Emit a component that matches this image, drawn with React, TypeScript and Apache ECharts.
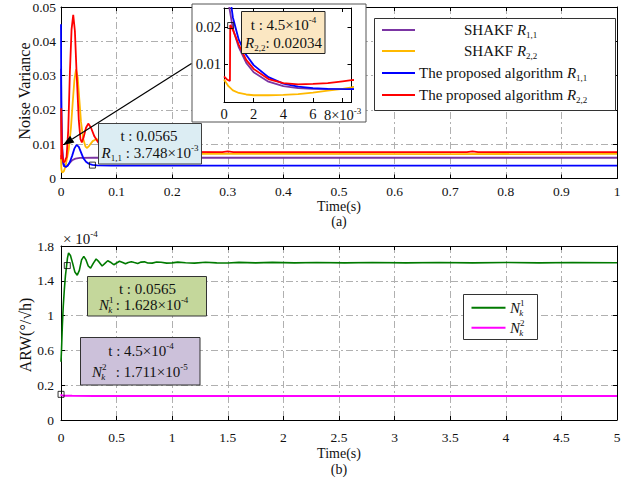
import React, { useEffect, useRef } from "react";
import * as echarts from "echarts";

const FONT = "Liberation Serif";
const INK = "#111111";
const GRID_C = "#b0b0b0";
const DASHDOT = [7, 3, 2, 3];

// ---------- tick labels ----------
const topXTickLabels = ["0", "0.1", "0.2", "0.3", "0.4", "0.5", "0.6", "0.7", "0.8", "0.9", "1"];
const topYTickLabels = ["0", "0.01", "0.02", "0.03", "0.04", "0.05"];
const insetXTickLabels = ["0", "2", "4", "6", "{n|8×10}{p|-3}", ""];
const insetYTickLabels = ["", "0.01", "0.02", ""];
const botXTickLabels = ["0", "0.5", "1", "1.5", "2", "2.5", "3", "3.5", "4", "4.5", "5"];
const botYTickLabels = ["0", "0.2", "0.6", "1", "1.4", "1.8"];

// ---------- (a) noise variance series: [time s, value] ----------
const shakfR11: number[][] = [
  [0, 0.032], [0.0003, 0.0265], [0.0006, 0.0195], [0.001, 0.0145], [0.0015, 0.0104], [0.002, 0.0079],
  [0.003, 0.0054], [0.004, 0.0042], [0.005, 0.0037], [0.006, 0.0035], [0.0086, 0.0034], [0.012, 0.0038],
  [0.016, 0.0046], [0.02, 0.0053], [0.026, 0.0058], [0.034, 0.006], [0.06, 0.00605], [0.5, 0.00605], [1, 0.00605],
];
const shakfR22: number[][] = [
  [0, 0.006], [0.0003, 0.0042], [0.0006, 0.0031], [0.001, 0.0024], [0.0015, 0.002], [0.002, 0.0018],
  [0.003, 0.0018], [0.004, 0.0019], [0.005, 0.0021], [0.006, 0.0025], [0.007, 0.003], [0.008, 0.0035],
  [0.0086, 0.0039], [0.01, 0.0052], [0.014, 0.0085], [0.018, 0.015], [0.021, 0.022], [0.024, 0.0285],
  [0.027, 0.0318], [0.03, 0.0295], [0.033, 0.023], [0.036, 0.0165], [0.04, 0.0115], [0.044, 0.0093],
  [0.047, 0.0089], [0.051, 0.0096], [0.057, 0.0109], [0.064, 0.0115], [0.072, 0.0105], [0.085, 0.0083],
  [0.1, 0.0074], [0.13, 0.0072], [0.4, 0.0072], [0.7, 0.0071], [1, 0.0072],
];
const propR11: number[][] = [
  [0, 0.045], [0.0003, 0.031], [0.0006, 0.0225], [0.001, 0.0165], [0.0015, 0.0125], [0.002, 0.0098],
  [0.003, 0.0066], [0.004, 0.0049], [0.005, 0.0041], [0.006, 0.0037], [0.007, 0.0035], [0.0086, 0.0034],
  [0.012, 0.0037], [0.016, 0.0048], [0.02, 0.0066], [0.024, 0.0087], [0.028, 0.0098], [0.032, 0.0092],
  [0.036, 0.0076], [0.04, 0.006], [0.045, 0.0049], [0.05, 0.0043], [0.0565, 0.00395], [0.065, 0.0038],
  [0.09, 0.00375], [0.5, 0.00375], [1, 0.00375],
];
const propR22: number[][] = [
  [0, 0.0068], [0.0002, 0.006], [0.0004, 0.0056], [0.00042, 0.0205], [0.00045, 0.02034], [0.0006, 0.0192],
  [0.001, 0.0152], [0.0015, 0.0112], [0.002, 0.0088], [0.003, 0.0061], [0.004, 0.005], [0.005, 0.0047],
  [0.006, 0.0048], [0.007, 0.005], [0.008, 0.0055], [0.0086, 0.0058], [0.01, 0.0062], [0.013, 0.014],
  [0.016, 0.031], [0.019, 0.0435], [0.022, 0.0477], [0.025, 0.043], [0.028, 0.031], [0.032, 0.017],
  [0.035, 0.0115], [0.0375, 0.0105], [0.041, 0.0122], [0.045, 0.0148], [0.049, 0.016], [0.054, 0.0148],
  [0.06, 0.0123], [0.067, 0.0105], [0.08, 0.0086], [0.1, 0.0078], [0.29, 0.0077], [0.3, 0.0079],
  [0.31, 0.0077], [0.73, 0.0077], [0.74, 0.0079], [0.75, 0.0077], [1, 0.0077],
];
const markA: number[][] = [[0.0565, 0.0039]];
const markInset: number[][] = [[0.00045, 0.02034]];

// ---------- (b) ARW series (×10^-4 display units) ----------
const arwN1: number[][] = [
  [0, 0.47], [0.005, 0.62], [0.012, 0.88], [0.02, 1.1], [0.03, 1.3], [0.04, 1.46], [0.05, 1.57], [0.058, 1.66],
  [0.068, 1.72], [0.085, 1.69], [0.105, 1.6], [0.125, 1.5], [0.146, 1.465], [0.165, 1.52], [0.185, 1.64],
  [0.205, 1.68], [0.225, 1.64], [0.245, 1.57], [0.266, 1.545], [0.29, 1.6], [0.316, 1.65], [0.34, 1.62],
  [0.37, 1.57], [0.395, 1.6], [0.42, 1.63], [0.45, 1.61], [0.475, 1.585], [0.5, 1.605], [0.526, 1.625],
  [0.555, 1.61], [0.58, 1.595], [0.605, 1.61], [0.632, 1.62], [0.66, 1.61], [0.69, 1.6], [0.72, 1.615],
  [0.75, 1.618], [0.78, 1.605], [0.82, 1.603], [0.86, 1.615], [0.9, 1.614], [0.95, 1.603], [1.0, 1.606],
  [1.05, 1.615], [1.12, 1.608], [1.2, 1.603], [1.3, 1.613], [1.4, 1.606], [1.5, 1.604], [1.6, 1.612],
  [1.75, 1.606], [1.9, 1.612], [2.1, 1.606], [2.3, 1.611], [2.55, 1.606], [2.8, 1.61], [3.1, 1.606],
  [3.4, 1.61], [3.7, 1.606], [4, 1.61], [4.3, 1.606], [4.6, 1.61], [5, 1.608],
];
const arwN2: number[][] = [
  [0, 0.095], [0.003, 0.085], [0.02, 0.08], [0.1, 0.078], [0.3, 0.076], [0.5, 0.077], [1, 0.075],
  [2, 0.075], [3, 0.075], [4, 0.075], [5, 0.075],
];
const markN1: number[][] = [[0.0565, 1.575]];
const markN2: number[][] = [[0.00045, 0.095]];

const C_PURPLE = "#7b35a3";
const C_ORANGE = "#ffb900";
const C_BLUE = "#0000ff";
const C_RED = "#ff0000";
const C_GREEN = "#007a00";
const C_PINK = "#ff00ff";

function rich(size: number) {
  const small = Math.round(size * 0.62);
  return {
    n: { fontSize: size, fontFamily: FONT, fill: INK, color: INK, lineHeight: size + 4 },
    i: { fontSize: size, fontFamily: FONT, fontStyle: "italic", fill: INK, color: INK, lineHeight: size + 4 },
    s: { fontSize: small, fontFamily: FONT, fill: INK, color: INK, verticalAlign: "bottom", lineHeight: small },
    p: { fontSize: small, fontFamily: FONT, fill: INK, color: INK, verticalAlign: "top", lineHeight: small },
  };
}

function T(x: number, y: number, text: string, o: any = {}) {
  const size = o.size ?? 15;
  return {
    type: "text",
    x,
    y,
    z: o.z ?? 30,
    rotation: o.rotation ?? 0,
    silent: true,
    style: {
      text,
      fill: INK,
      fontFamily: FONT,
      fontSize: size,
      fontStyle: o.italic ? "italic" : "normal",
      align: o.align ?? "left",
      textAlign: o.align ?? "left",
      verticalAlign: "middle",
      textVerticalAlign: "middle",
      rich: o.rich ? rich(size) : undefined,
    },
  };
}

function R(x: number, y: number, w: number, h: number, fill: string, stroke: string, z: number) {
  return {
    type: "rect",
    z,
    silent: true,
    shape: { x, y, width: w, height: h },
    style: { fill, stroke, lineWidth: 1 },
  };
}

function L(x1: number, y1: number, x2: number, y2: number, color: string, z: number, w = 2) {
  return { type: "line", z, silent: true, shape: { x1, y1, x2, y2 }, style: { stroke: color, lineWidth: w } };
}

// N_k^m symbol
function Nk(x: number, y: number, sup: string, z: number, size = 15) {
  return [
    T(x, y, "N", { italic: true, size, z }),
    T(x + size * 0.66, y - size * 0.36, sup, { size: size * 0.6, z }),
    T(x + size * 0.62, y + size * 0.34, "k", { italic: true, size: size * 0.6, z }),
  ];
}

const axisLine = { show: true, onZero: false, lineStyle: { color: "#000", width: 1 } };
const tick = { show: true, inside: true, length: 4, lineStyle: { color: "#000", width: 1 } };

function xAx(gridIndex: number, min: number, max: number, interval: number, labels: string[] | null, opt: any = {}) {
  return {
    type: "value",
    gridIndex,
    position: opt.position ?? "bottom",
    min,
    max,
    interval,
    z: opt.z ?? 0,
    axisLine,
    axisTick: tick,
    axisLabel: labels
      ? {
          show: true,
          margin: opt.margin ?? 6,
          color: INK,
          fontFamily: FONT,
          fontSize: opt.fontSize ?? 13.5,
          formatter: (_v: number, i: number) => labels[i] ?? "",
          rich: rich(opt.fontSize ?? 13.5),
        }
      : { show: false },
    splitLine: opt.split ? { show: true, lineStyle: { color: GRID_C, type: DASHDOT, width: 1 } } : { show: false },
  };
}
function yAx(gridIndex: number, min: number, max: number, interval: number, labels: string[] | null, opt: any = {}) {
  return {
    type: "value",
    gridIndex,
    position: opt.position ?? "left",
    min,
    max,
    interval,
    z: opt.z ?? 0,
    axisLine,
    axisTick: tick,
    axisLabel: labels
      ? {
          show: true,
          margin: opt.margin ?? 5,
          color: INK,
          fontFamily: FONT,
          fontSize: opt.fontSize ?? 13.5,
          formatter: (_v: number, i: number) => labels[i] ?? "",
        }
      : { show: false },
    splitLine: opt.split ? { show: true, lineStyle: { color: GRID_C, type: DASHDOT, width: 1 } } : { show: false },
  };
}

function lineS(name: string, data: number[][], color: string, xi: number, yi: number, z: number, w = 1.8) {
  return {
    type: "line",
    name,
    data,
    xAxisIndex: xi,
    yAxisIndex: yi,
    z,
    clip: true,
    showSymbol: false,
    symbol: "none",
    silent: true,
    lineStyle: { color, width: w },
    itemStyle: { color },
  };
}
function markS(data: number[][], xi: number, yi: number, z: number) {
  return {
    type: "scatter",
    data,
    xAxisIndex: xi,
    yAxisIndex: yi,
    z,
    silent: true,
    symbol: "rect",
    symbolSize: 6,
    itemStyle: { color: "rgba(0,0,0,0)", borderColor: "#000", borderWidth: 1 },
  };
}

function buildOption() {
  const graphic: any[] = [];
  // axis names / captions
  graphic.push(T(24, 91, "Noise Variance", { size: 16, align: "center", rotation: Math.PI / 2 }));
  graphic.push(T(25, 335, "ARW(°/√h)", { size: 16, align: "center", rotation: Math.PI / 2 }));
  graphic.push(T(339, 206, "Time(s)", { size: 14, align: "center" }));
  graphic.push(T(339, 221, "(a)", { size: 14, align: "center" }));
  graphic.push(T(339, 453, "Time(s)", { size: 14, align: "center" }));
  graphic.push(T(339, 469, "(b)", { size: 14, align: "center" }));
  graphic.push(T(63, 239, "{n|× 10}{p|-4}", { size: 15, rich: true }));

  // inset frame (white)
  graphic.push(R(192, 4, 174, 118, "#ffffff", "#555555", 10));

  // top annotation box
  graphic.push(R(98.5, 123.5, 103, 40.5, "#dcedf3", "#404040", 10));
  graphic.push(T(149, 136, "t : 0.0565", { z: 11, align: "center" }));
  graphic.push(T(150, 153, "{i|R}{s|1,1}{n| : 3.748×10}{p|-3}", { z: 11, rich: true, align: "center" }));

  // inset annotation box
  graphic.push(R(241.5, 11.5, 83.5, 42, "#fbe7c2", "#222222", 14));
  graphic.push(T(283.5, 25, "{n|t : 4.5×10}{p|-4}", { z: 15, rich: true, align: "center" }));
  graphic.push(T(283.5, 43, "{i|R}{s|2,2}{n|: 0.02034}", { z: 15, rich: true, align: "center" }));

  // arrow
  graphic.push(L(191.5, 63.5, 72.3, 139.1, "#000", 16, 1.2));
  graphic.push({
    type: "polygon",
    z: 16,
    silent: true,
    shape: { points: [[63, 145], [74.4, 142.4], [70.1, 135.7]] },
    style: { fill: "#000" },
  });

  // top legend
  graphic.push(R(374.5, 18.5, 241, 92, "#ffffff", "#333333", 10));
  const legRows = [
    { y: 30, c: C_PURPLE, t: "{n|SHAKF }{i|R}{s|1,1}", x: 464 },
    { y: 51, c: C_ORANGE, t: "{n|SHAKF }{i|R}{s|2,2}", x: 464 },
    { y: 73, c: C_BLUE, t: "{n|The proposed algorithm}{i| R}{s|1,1}", x: 419 },
    { y: 95, c: C_RED, t: "{n|The proposed algorithm}{i| R}{s|2,2}", x: 419 },
  ];
  legRows.forEach((r) => {
    graphic.push(L(382, r.y, 415, r.y, r.c, 11, 2));
    graphic.push(T(r.x, r.y, r.t, { z: 11, rich: true, size: 15 }));
  });

  // bottom annotation boxes
  graphic.push(R(87.5, 276.5, 119, 39.5, "#c4d79b", "#333333", 10));
  graphic.push(T(147.5, 288.5, "t : 0.0565", { z: 11, align: "center" }));
  graphic.push(...Nk(99, 305, "1", 11));
  graphic.push(T(112, 305, "{n| : 1.628×10}{p|-4}", { z: 11, rich: true }));

  graphic.push(R(80.5, 337.5, 119.5, 47.5, "#ccc1da", "#333333", 10));
  graphic.push(T(141, 351, "{n|t : 4.5×10}{p|-4}", { z: 11, rich: true, align: "center" }));
  graphic.push(...Nk(92, 372, "2", 11));
  graphic.push(T(112, 372, "{n| : 1.711×10}{p|-5}", { z: 11, rich: true }));

  // bottom legend
  graphic.push(R(463.5, 294.5, 74, 45, "#ffffff", "#333333", 10));
  graphic.push(L(471.5, 307.7, 505.5, 307.7, C_GREEN, 11, 2));
  graphic.push(L(471.5, 327.7, 505.5, 327.7, C_PINK, 11, 2));
  graphic.push(...Nk(510, 308, "1", 11));
  graphic.push(...Nk(510, 328, "2", 11));

  return {
    animation: false,
    backgroundColor: "#ffffff",
    textStyle: { fontFamily: FONT },
    grid: [
      { left: 61, top: 5, width: 556, height: 173.5 },
      { left: 224, top: 8, width: 127.5, height: 94 },
      { left: 61, top: 246, width: 556, height: 174 },
    ],
    xAxis: [
      xAx(0, 0, 1, 0.1, topXTickLabels, { split: true, margin: 6 }),
      xAx(0, 0, 1, 0.1, null, { position: "top" }),
      xAx(1, 0, 0.0086, 0.002, insetXTickLabels, { z: 11, fontSize: 14.5, margin: 4 }),
      xAx(1, 0, 0.0086, 0.002, null, { position: "top", z: 11 }),
      xAx(2, 0, 5, 0.5, botXTickLabels, { split: true, margin: 10 }),
      xAx(2, 0, 5, 0.5, null, { position: "top" }),
    ],
    yAxis: [
      yAx(0, 0, 0.05, 0.01, topYTickLabels, { split: true, margin: 5 }),
      yAx(0, 0, 0.05, 0.01, null, { position: "right" }),
      yAx(1, 0, 0.025, 0.01, insetYTickLabels, { z: 11, fontSize: 14.5, margin: 3 }),
      yAx(1, 0, 0.025, 0.01, null, { position: "right", z: 11 }),
      yAx(2, -0.2, 1.8, 0.4, botYTickLabels, { split: true, margin: 7 }),
      yAx(2, -0.2, 1.8, 0.4, null, { position: "right" }),
    ],
    graphic: { elements: graphic },
    series: [
      lineS("SHAKF R11", shakfR11, C_PURPLE, 0, 0, 2),
      lineS("SHAKF R22", shakfR22, C_ORANGE, 0, 0, 2),
      lineS("Proposed R11", propR11, C_BLUE, 0, 0, 2),
      lineS("Proposed R22", propR22, C_RED, 0, 0, 2),
      markS(markA, 0, 0, 3),
      lineS("SHAKF R11 inset", shakfR11, C_PURPLE, 2, 2, 12),
      lineS("SHAKF R22 inset", shakfR22, C_ORANGE, 2, 2, 12),
      lineS("Proposed R11 inset", propR11, C_BLUE, 2, 2, 12),
      lineS("Proposed R22 inset", propR22, C_RED, 2, 2, 12),
      markS(markInset, 2, 2, 13),
      lineS("N1", arwN1, C_GREEN, 4, 4, 2, 1.6),
      lineS("N2", arwN2, C_PINK, 4, 4, 2, 2),
      markS(markN1, 4, 4, 3),
      markS(markN2, 4, 4, 3),
    ],
  };
}

export default function App() {
  const ref = useRef<HTMLDivElement>(null);
  useEffect(() => {
    const chart = echarts.init(ref.current!, null, { renderer: "svg" });
    chart.setOption(buildOption() as any);
    return () => chart.dispose();
  }, []);
  return (
    <div
      ref={ref}
      style={{ position: "absolute", left: 0, top: 0, width: 631, height: 483, background: "#fff" }}
    />
  );
}
